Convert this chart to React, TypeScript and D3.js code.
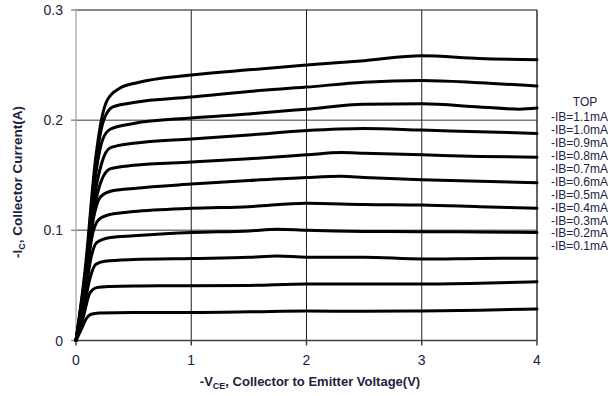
import React from "react";
import * as d3 from "d3";

type Pt = [number, number];

// -IB series: [VCE (V), -IC (A)]
const ib01: Pt[] = [[0,0],[0.05,0.011],[0.09,0.020],[0.13,0.0238],[0.2,0.025],[0.5,0.0255],[1,0.0255],[1.5,0.026],[2,0.0268],[2.5,0.0265],[3,0.0268],[3.5,0.0275],[4,0.0286]];
const ib02: Pt[] = [[0,0],[0.06,0.02],[0.12,0.043],[0.18,0.048],[0.3,0.049],[0.5,0.0495],[1,0.0497],[1.5,0.050],[2,0.0513],[2.5,0.0513],[3,0.0513],[3.5,0.052],[4,0.0534]];
const ib03: Pt[] = [[0,0],[0.06,0.025],[0.12,0.056],[0.17,0.069],[0.25,0.072],[0.5,0.0735],[1,0.0745],[1.5,0.0755],[1.75,0.0767],[2,0.0756],[2.5,0.0756],[3,0.074],[3.5,0.0745],[4,0.0747]];
const ib04: Pt[] = [[0,0],[0.07,0.035],[0.13,0.075],[0.18,0.089],[0.3,0.0935],[0.5,0.095],[1,0.098],[1.5,0.0995],[1.75,0.101],[2,0.100],[2.5,0.099],[3,0.0988],[3.5,0.0985],[4,0.098]];
const ib05: Pt[] = [[0,0],[0.07,0.04],[0.14,0.095],[0.2,0.11],[0.3,0.1145],[0.5,0.117],[1,0.120],[1.5,0.1215],[2,0.1246],[2.5,0.1235],[3,0.123],[3.5,0.1215],[4,0.120]];
const ib06: Pt[] = [[0,0],[0.07,0.045],[0.15,0.11],[0.21,0.13],[0.3,0.1355],[0.5,0.138],[1,0.142],[1.5,0.1452],[2,0.148],[2.3,0.149],[2.5,0.148],[3,0.146],[3.5,0.1445],[4,0.1433]];
const ib07: Pt[] = [[0,0],[0.08,0.05],[0.16,0.12],[0.22,0.145],[0.3,0.156],[0.5,0.159],[1,0.162],[1.5,0.165],[2,0.1685],[2.3,0.1706],[2.5,0.170],[3,0.1685],[3.5,0.167],[4,0.1664]];
const ib08: Pt[] = [[0,0],[0.08,0.055],[0.16,0.13],[0.22,0.16],[0.3,0.175],[0.5,0.179],[1,0.183],[1.5,0.1866],[2,0.1906],[2.5,0.1925],[3,0.191],[3.5,0.1895],[4,0.188]];
const ib09: Pt[] = [[0,0],[0.08,0.06],[0.17,0.15],[0.23,0.182],[0.3,0.192],[0.5,0.197],[1,0.202],[1.5,0.2057],[2,0.210],[2.5,0.2145],[3,0.2148],[3.5,0.212],[3.85,0.210],[4,0.211]];
const ib10: Pt[] = [[0,0],[0.08,0.06],[0.17,0.16],[0.24,0.2],[0.32,0.212],[0.5,0.216],[1,0.221],[1.5,0.226],[2,0.230],[2.5,0.2345],[3,0.236],[3.5,0.234],[4,0.231]];
const ib11: Pt[] = [[0,0],[0.08,0.065],[0.17,0.165],[0.22,0.2],[0.27,0.218],[0.38,0.229],[0.53,0.234],[1,0.241],[1.5,0.2457],[2,0.250],[2.5,0.254],[3,0.2585],[3.5,0.256],[4,0.2548]];

const seriesList: Pt[][] = [ib01, ib02, ib03, ib04, ib05, ib06, ib07, ib08, ib09, ib10, ib11];

const xTicks = [0, 1, 2, 3, 4];
const yTicks = [0, 0.1, 0.2, 0.3];
const yTickLabels = ["0", "0.1", "0.2", "0.3"];
const legendTitle = "TOP";
const legendLabels = ["-IB=1.1mA", "-IB=1.0mA", "-IB=0.9mA", "-IB=0.8mA", "-IB=0.7mA", "-IB=0.6mA", "-IB=0.5mA", "-IB=0.4mA", "-IB=0.3mA", "-IB=0.2mA", "-IB=0.1mA"];

const W = 611, H = 396;
const L = 76, R = 537, T = 10, B = 340.5;
const FONT = "'Liberation Sans', Arial, sans-serif";
const TXT = "#222240";

export default function App() {
  const x = d3.scaleLinear().domain([0, 4]).range([L, R]);
  const y = d3.scaleLinear().domain([0, 0.3]).range([B, T]);
  const line = d3.line<Pt>().x(d => x(d[0])).y(d => y(d[1])).curve(d3.curveMonotoneX);

  return (
    <svg width={W} height={H} style={{ position: "absolute", left: 0, top: 0, background: "#fff" }}>
      {[0.1, 0.2].map(v => (
        <line key={"hg" + v} x1={L} x2={R} y1={y(v)} y2={y(v)} stroke="#7a7a7a" strokeWidth={1.5} />
      ))}
      <line x1={L} x2={R} y1={y(0.3)} y2={y(0.3)} stroke="#606060" strokeWidth={1.5} />
      {[1, 2, 3].map(v => (
        <line key={"vg" + v} x1={x(v)} x2={x(v)} y1={T} y2={B} stroke="#202020" strokeWidth={1} />
      ))}
      <line x1={R} x2={R} y1={T} y2={B} stroke="#303030" strokeWidth={1.5} />
      <line x1={L} x2={L} y1={T} y2={B} stroke="#b0b0b0" strokeWidth={1.5} />
      {yTicks.map(v => (
        <line key={"yt" + v} x1={L - 5} x2={L} y1={y(v)} y2={y(v)} stroke="#909090" strokeWidth={1.5} />
      ))}
      <line x1={L} x2={R} y1={B} y2={B} stroke="#404040" strokeWidth={1.5} />
      {xTicks.map(v => (
        <line key={"xt" + v} x1={x(v)} x2={x(v)} y1={B} y2={B + 5} stroke="#404040" strokeWidth={1.5} />
      ))}
      {seriesList.map((s, i) => (
        <path key={"s" + i} d={line(s) || ""} fill="none" stroke="#000" strokeWidth={3} strokeLinejoin="round" strokeLinecap="round" />
      ))}
      {yTicks.map((v, i) => (
        <text key={"yl" + v} x={63} y={y(v)} dy="0.36em" textAnchor="end" fontFamily={FONT} fontSize={14} fill={TXT}>{yTickLabels[i]}</text>
      ))}
      {xTicks.map(v => (
        <text key={"xl" + v} x={x(v)} y={365} textAnchor="middle" fontFamily={FONT} fontSize={14} fill={TXT}>{String(v)}</text>
      ))}
      <text transform={`translate(22,182) rotate(-90)`} textAnchor="middle" fontFamily={FONT} fontSize={13.5} fontWeight="bold" fill={TXT}>
        -I<tspan fontSize={9} dy={3}>C</tspan><tspan dy={-3}>, Collector Current(A)</tspan>
      </text>
      <text x={310} y={386} textAnchor="middle" fontFamily={FONT} fontSize={13} fontWeight="bold" fill={TXT}>
        -V<tspan fontSize={9} dy={3}>CE</tspan><tspan dy={-3}>, Collector to Emitter Voltage(V)</tspan>
      </text>
      <text x={585} y={102} dy="0.36em" textAnchor="middle" fontFamily={FONT} fontSize={12} fill={TXT}>{legendTitle}</text>
      {legendLabels.map((t, i) => (
        <text key={t} x={551} y={117 + i * 12.9} dy="0.36em" fontFamily={FONT} fontSize={12} fill={TXT}>{t}</text>
      ))}
    </svg>
  );
}
